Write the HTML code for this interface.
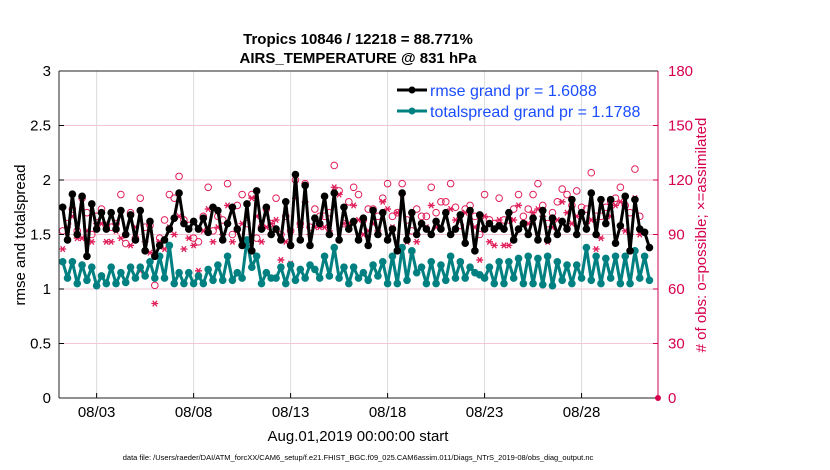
<!DOCTYPE html>
<html><head><meta charset="utf-8"><style>
html,body{margin:0;padding:0;background:#fff;width:830px;height:470px;overflow:hidden}
svg text{font-family:"Liberation Sans",Arial,sans-serif}
</style></head><body>
<svg id="chart" width="830" height="470" viewBox="0 0 830 470" xmlns="http://www.w3.org/2000/svg">
<g id="grid"></g>
<g id="marks"></g>
<g id="axes"></g>
<text x="358" y="44" text-anchor="middle" font-size="15" font-weight="bold">Tropics 10846 / 12218 = 88.771%</text>
<text x="358" y="63" text-anchor="middle" font-size="15" font-weight="bold">AIRS_TEMPERATURE @ 831 hPa</text>
<text transform="translate(25,235) rotate(-90)" text-anchor="middle" font-size="15">rmse and totalspread</text>
<text transform="translate(706,235) rotate(-90)" text-anchor="middle" font-size="15" fill="#d6004f"># of obs: o=possible; ×=assimilated</text>
<text x="358" y="441" text-anchor="middle" font-size="15">Aug.01,2019 00:00:00 start</text>
<text x="358" y="460" text-anchor="middle" font-size="7.5">data file: /Users/raeder/DAI/ATM_forcXX/CAM6_setup/f.e21.FHIST_BGC.f09_025.CAM6assim.011/Diags_NTrS_2019-08/obs_diag_output.nc</text>
<g>
<line x1="397" y1="90" x2="427" y2="90" stroke="#000" stroke-width="3"/><circle cx="412" cy="90" r="3.5" fill="#000"/>
<text x="430" y="96" font-size="16" fill="#1a4cff">rmse grand pr = 1.6088</text>
<line x1="397" y1="111" x2="427" y2="111" stroke="#008080" stroke-width="3"/><circle cx="412" cy="111" r="3.5" fill="#008080"/>
<text x="430" y="117" font-size="16" fill="#1a4cff">totalspread grand pr = 1.1788</text>
</g>
</svg>
<script>
const rmse=[1.75,1.45,1.87,1.5,1.85,1.3,1.78,1.55,1.7,1.55,1.7,1.55,1.72,1.5,1.68,1.45,1.72,1.35,1.62,1.3,1.4,1.45,1.55,1.65,1.88,1.6,1.55,1.62,1.55,1.65,1.52,1.75,1.72,1.45,1.6,1.75,1.55,1.4,1.78,1.35,1.9,1.55,1.75,1.5,1.55,1.45,1.8,1.4,2.05,1.45,1.95,1.4,1.65,1.6,1.85,1.5,1.88,1.45,1.75,1.55,1.62,1.45,1.65,1.4,1.72,1.5,1.7,1.45,1.55,1.35,1.88,1.45,1.7,1.5,1.6,1.55,1.5,1.62,1.55,1.7,1.5,1.55,1.68,1.42,1.72,1.35,1.68,1.55,1.6,1.55,1.58,1.55,1.7,1.45,1.55,1.6,1.5,1.65,1.45,1.72,1.45,1.65,1.5,1.62,1.55,1.82,1.5,1.7,1.55,1.88,1.5,1.82,1.6,1.82,1.42,1.58,1.85,1.35,1.82,1.55,1.52,1.38];
const spread=[1.25,1.1,1.25,1.05,1.22,1.08,1.2,1.03,1.12,1.05,1.2,1.05,1.15,1.06,1.2,1.1,1.2,1.12,1.25,1.1,1.3,1.1,1.4,1.05,1.15,1.05,1.15,1.05,1.12,1.05,1.18,1.08,1.22,1.08,1.3,1.08,1.15,1.1,1.45,1.2,1.3,1.05,1.15,1.1,1.1,1.2,1.05,1.22,1.08,1.18,1.1,1.22,1.18,1.1,1.3,1.12,1.38,1.1,1.2,1.05,1.2,1.1,1.15,1.08,1.22,1.12,1.25,1.05,1.3,1.05,1.38,1.08,1.35,1.15,1.2,1.05,1.25,1.05,1.22,1.08,1.3,1.1,1.25,1.1,1.2,1.15,1.13,1.1,1.2,1.05,1.25,1.05,1.25,1.1,1.28,1.05,1.3,1.05,1.28,1.04,1.3,1.03,1.25,1.08,1.22,1.05,1.22,1.1,1.38,1.08,1.3,1.05,1.28,1.1,1.3,1.05,1.3,1.05,1.35,1.1,1.3,1.08];
const possible=[92,96,104,92,110,102,90,100,104,95,94,96,112,85,102,88,110,94,95,62,88,98,112,110,122,98,95,88,86,100,116,92,100,98,118,90,106,112,96,112,88,94,104,96,110,90,100,92,120,96,118,94,104,100,100,102,128,114,96,108,116,112,98,104,104,100,110,118,100,102,118,98,92,104,100,100,116,102,108,108,118,105,95,104,106,100,90,112,98,96,110,98,98,104,112,100,104,112,118,106,96,102,108,115,112,106,114,105,104,124,100,100,105,108,110,116,106,102,126,100];
const assim=[82,94,100,88,88,92,86,96,96,86,86,92,88,90,84,94,70,86,80,52,86,82,94,90,100,82,88,84,70,92,104,86,94,90,106,86,92,96,84,110,100,86,94,96,98,76,86,74,110,94,108,90,94,94,94,92,116,112,96,96,106,98,90,92,96,92,108,104,94,102,112,86,80,86,96,94,106,94,94,102,104,98,74,102,96,94,76,100,86,84,98,84,84,98,106,96,96,102,104,100,86,94,98,108,102,96,100,102,96,98,82,88,96,100,106,108,92,90,110,90];
const xTickLabels=["08/03","08/08","08/13","08/18","08/23","08/28"];
const xTickDays=[2,7,12,17,22,27];
const yTicks=[0,0.5,1,1.5,2,2.5,3];
const y2Ticks=[0,30,60,90,120,150,180];

const L=59,R=658,T=71,B=398,DMIN=0.06,DMAX=30.94;
const xs=d=>L+(d-DMIN)/(DMAX-DMIN)*(R-L);
const ys=v=>B-v/3*(B-T);
const y2=c=>B-c/180*(B-T);
const NS="http://www.w3.org/2000/svg";
function mk(tag,attrs,parent){const e=document.createElementNS(NS,tag);for(const k in attrs)e.setAttribute(k,attrs[k]);parent.appendChild(e);return e;}
const grid=document.getElementById('grid'),marks=document.getElementById('marks'),axes=document.getElementById('axes');
mk('rect',{x:L,y:T,width:R-L,height:B-T,fill:'#fff'},grid);
xTickDays.forEach((d,i)=>{
  const g=mk('line',{x1:xs(d),x2:xs(d),y1:T,y2:B,stroke:'#dcdcdc','stroke-width':1},grid);
  
  
  const t=mk('text',{x:xs(d),y:B+19,'text-anchor':'middle','font-size':15},axes);
  t.textContent=xTickLabels[i];
  
  
  mk('line',{x1:xs(d),x2:xs(d),y1:B,y2:B-5,stroke:'#000'},axes);
});
y2Ticks.forEach(c=>{
  if(c>0&&c<180){const g=mk('line',{x1:L,x2:R,y1:y2(c),y2:y2(c),stroke:'#f2c6d6','stroke-width':1},grid);
  
  }
  const t=mk('text',{x:R+10,y:y2(c)+5,'font-size':15,fill:'#d6004f'},axes);
  t.textContent=c;
  
  
  mk('line',{x1:R,x2:R-5,y1:y2(c),y2:y2(c),stroke:'#d6004f'},axes);
});
yTicks.forEach(v=>{
  const t=mk('text',{x:L-8,y:ys(v)+5,'text-anchor':'end','font-size':15},axes);
  t.textContent=v;
  
  
  mk('line',{x1:L,x2:L+5,y1:ys(v),y2:ys(v),stroke:'#000'},axes);
});
mk('line',{x1:L,x2:L,y1:T,y2:B,stroke:'#222'},axes);
mk('line',{x1:L,x2:R,y1:B,y2:B,stroke:'#222'},axes);
mk('line',{x1:L,x2:R,y1:T,y2:T,stroke:'#222'},axes);
mk('line',{x1:R,x2:R,y1:T,y2:B,stroke:'#d6004f'},axes);
mk('circle',{cx:R,cy:B,r:3,fill:'#d6004f'},axes);
const dayOf=i=>0.25+i*0.25;
possible.forEach((c,i)=>{
  const e=mk('circle',{cx:xs(dayOf(i)),cy:y2(c),r:3.3,fill:'none',stroke:'#e0205a','stroke-width':1},marks);
  
  
});
assim.forEach((c,i)=>{
  const x=xs(dayOf(i)),y=y2(c),r=3.5;
  const d=`M${x-r} ${y}H${x+r}M${x-r*0.6} ${y-r*0.8}L${x+r*0.6} ${y+r*0.8}M${x+r*0.6} ${y-r*0.8}L${x-r*0.6} ${y+r*0.8}`;
  const e=mk('path',{d:d,stroke:'#e0205a','stroke-width':1.3,fill:'none'},marks);
  
  
});
function series(vals,color,name){
  const p=mk('polyline',{points:vals.map((v,i)=>xs(dayOf(i))+','+ys(v)).join(' '),fill:'none',stroke:color,'stroke-width':3,'stroke-linejoin':'round'},marks);
  
  
  vals.forEach((v,i)=>{
    const c=mk('circle',{cx:xs(dayOf(i)),cy:ys(v),r:3.8,fill:color},marks);
    
    
  });
}
series(spread,'#008080','totalspread');
series(rmse,'#000','rmse');
</script>
</body></html>
